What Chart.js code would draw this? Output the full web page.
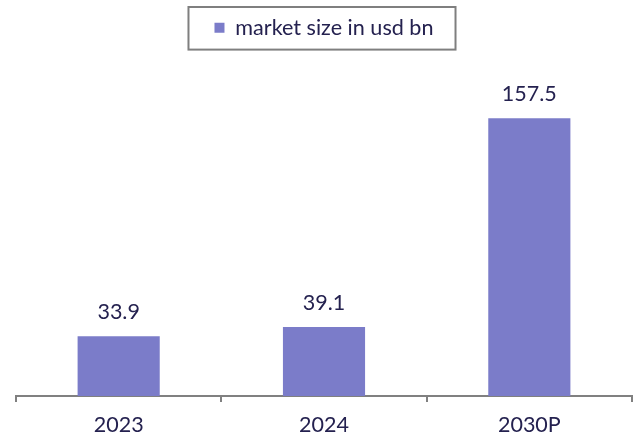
<!DOCTYPE html>
<html>
<head>
<meta charset="utf-8">
<script src="https://cdn.jsdelivr.net/npm/chart.js@4.4.0/dist/chart.umd.min.js"></script>
<style>
	body { margin: 0; background: #fff; }
</style>
</head>
<body>
<canvas id="canvas" width="637" height="436"></canvas>
<script>
'use strict';

var years = ['2023', '2024', '2030P'];
var marketSize = [33.9, 39.1, 157.5];
var seriesName = 'market size in usd bn';

var barColor = '#7b7cc9';
var textColor = '#24214f';

// frame around the legend entry
var legendFrame = {
	id: 'legendFrame',
	afterDraw: function(chart) {
		var box = chart.legend.legendHitBoxes[0];
		if (!box) return;
		var ctx = chart.ctx;
		ctx.save();
		ctx.strokeStyle = '#7f7f7f';
		ctx.lineWidth = 2;
		ctx.strokeRect(box.left - 26, box.top - 10, box.width + 48, box.height + 21);
		ctx.restore();
	}
};

// numbers printed above each bar
var barValues = {
	id: 'barValues',
	afterDatasetsDraw: function(chart) {
		var ctx = chart.ctx;
		var meta = chart.getDatasetMeta(0);
		ctx.save();
		ctx.fillStyle = textColor;
		ctx.font = '21.5px Lato';
		ctx.textAlign = 'center';
		ctx.textBaseline = 'middle';
		meta.data.forEach(function(bar, i) {
			ctx.fillText(marketSize[i].toFixed(1), bar.x, bar.y - 24);
		});
		ctx.restore();
	}
};

var config = {
	type: 'bar',
	data: {
		labels: years,
		datasets: [{
			label: seriesName,
			data: marketSize,
			backgroundColor: barColor,
			borderWidth: 0,
			categoryPercentage: 0.4,
			barPercentage: 1
		}]
	},
	options: {
		responsive: false,
		animation: false,
		layout: {
			padding: { top: 7, left: 16, right: 5, bottom: 0 }
		},
		plugins: {
			legend: {
				position: 'top',
				labels: {
					boxWidth: 10,
					boxHeight: 10,
					color: textColor,
					font: { family: 'Lato', size: 21.6 },
					padding: 10
				}
			},
			tooltip: { enabled: false }
		},
		scales: {
			x: {
				afterFit: function(scale) {
					scale.height = 40;
				},
				grid: {
					offset: true,
					drawOnChartArea: false,
					drawTicks: true,
					tickLength: 6,
					color: '#808080',
					lineWidth: 2
				},
				border: { color: '#808080', width: 2 },
				ticks: {
					color: textColor,
					font: { family: 'Lato', size: 21.5, lineHeight: 1 },
					padding: 12
				}
			},
			y: {
				display: false,
				min: 0,
				max: 197
			}
		}
	},
	plugins: [legendFrame, barValues]
};

var ctx = document.getElementById('canvas').getContext('2d');
window.mychart = new Chart(ctx, config);
</script>
</body>
</html>
